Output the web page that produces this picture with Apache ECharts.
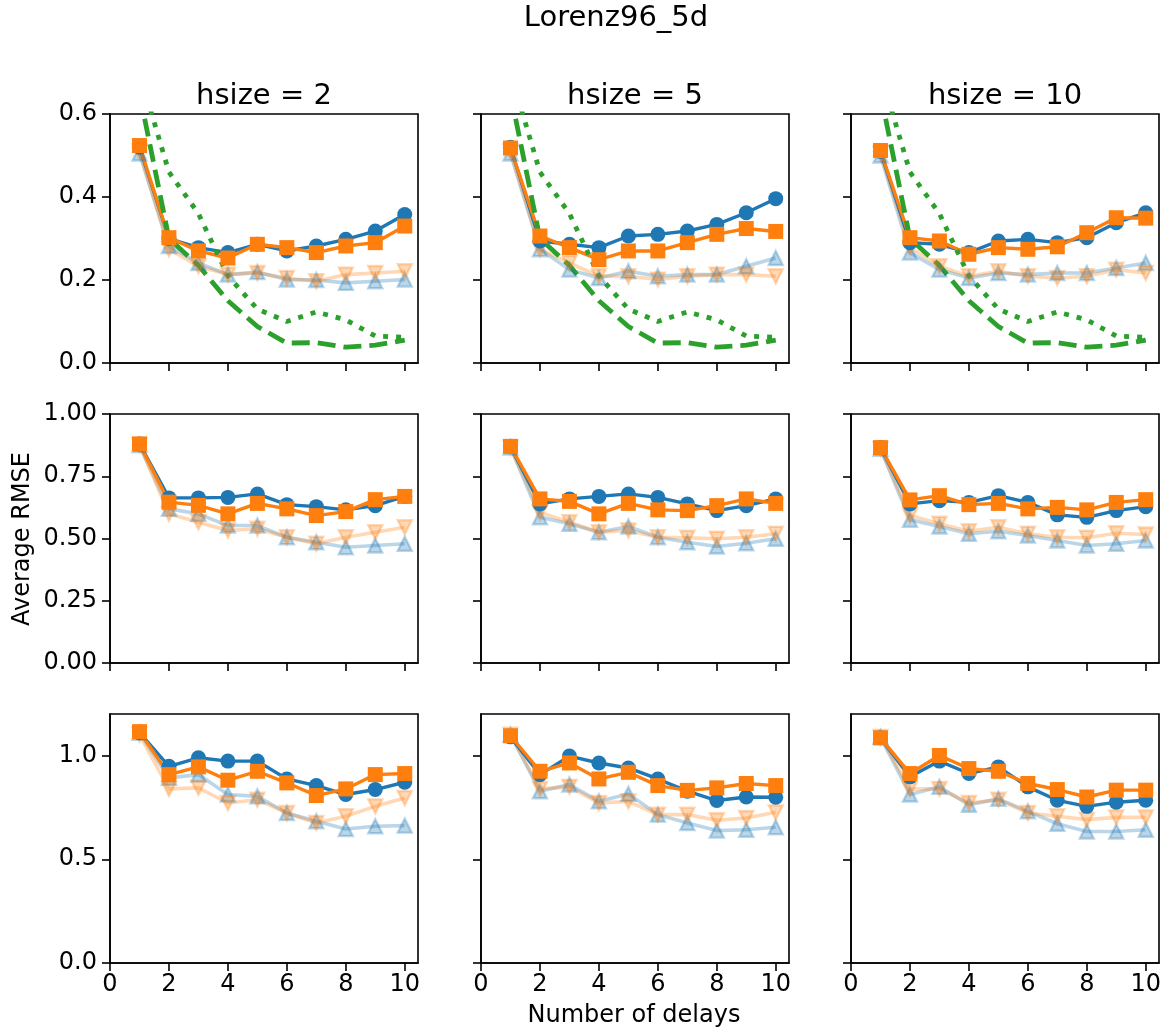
<!DOCTYPE html>
<html>
<head>
<meta charset="utf-8">
<script src="https://cdn.jsdelivr.net/npm/echarts@6/dist/echarts.min.js"></script>
<style>
html,body{margin:0;padding:0;background:#fff;}
#chart{width:1170px;height:1036px;}
</style>
</head>
<body>
<div id="chart"></div>
<script>
// ---------- data ----------
const delays = [1, 2, 3, 4, 5, 6, 7, 8, 9, 10];
const hsizes = [2, 5, 10];
const xTicks = [0, 2, 4, 6, 8, 10];
const yTicksRow1 = [0, 0.2, 0.4, 0.6];
const yTicksRow2 = [0, 0.25, 0.5, 0.75, 1.0];
const yTicksRow3 = [0, 0.5, 1.0];

// Row 1 (per column: hsize 2, 5, 10)
const row1Circle = [
  [0.52, 0.30, 0.278, 0.266, 0.286, 0.270, 0.282, 0.298, 0.318, 0.358],
  [0.52, 0.294, 0.286, 0.278, 0.306, 0.310, 0.318, 0.334, 0.362, 0.396],
  [0.51, 0.29, 0.286, 0.266, 0.294, 0.298, 0.29, 0.302, 0.338, 0.362]
];
const row1Square = [
  [0.524, 0.302, 0.270, 0.253, 0.286, 0.278, 0.266, 0.282, 0.29, 0.33],
  [0.518, 0.306, 0.278, 0.249, 0.270, 0.270, 0.290, 0.310, 0.324, 0.317],
  [0.512, 0.302, 0.294, 0.262, 0.278, 0.274, 0.28, 0.314, 0.35, 0.349]
];
const row1Up = [
  [0.505, 0.282, 0.241, 0.213, 0.219, 0.201, 0.200, 0.193, 0.197, 0.201],
  [0.505, 0.274, 0.225, 0.205, 0.221, 0.209, 0.213, 0.213, 0.233, 0.253],
  [0.50, 0.266, 0.225, 0.205, 0.217, 0.213, 0.217, 0.217, 0.229, 0.241]
];
const row1Down = [
  [0.51, 0.274, 0.233, 0.213, 0.217, 0.205, 0.197, 0.213, 0.217, 0.221],
  [0.51, 0.274, 0.241, 0.209, 0.209, 0.201, 0.209, 0.213, 0.213, 0.209],
  [0.505, 0.278, 0.233, 0.209, 0.221, 0.209, 0.205, 0.209, 0.225, 0.217]
];
const baselineDashed = [0.65, 0.30, 0.235, 0.15, 0.088, 0.048, 0.049, 0.038, 0.043, 0.055];
const baselineDotted = [0.70, 0.46, 0.36, 0.21, 0.13, 0.10, 0.123, 0.104, 0.065, 0.062];

// Row 2
const row2Circle = [
  [0.88, 0.663, 0.663, 0.665, 0.679, 0.636, 0.628, 0.615, 0.632, 0.669],
  [0.87, 0.639, 0.659, 0.669, 0.679, 0.665, 0.639, 0.612, 0.632, 0.659],
  [0.865, 0.639, 0.652, 0.645, 0.672, 0.645, 0.595, 0.585, 0.612, 0.628]
];
const row2Square = [
  [0.88, 0.646, 0.633, 0.599, 0.641, 0.619, 0.592, 0.608, 0.656, 0.669],
  [0.87, 0.659, 0.649, 0.599, 0.641, 0.615, 0.612, 0.632, 0.659, 0.641],
  [0.865, 0.655, 0.672, 0.636, 0.641, 0.619, 0.625, 0.615, 0.645, 0.656]
];
const row2Up = [
  [0.875, 0.619, 0.599, 0.552, 0.552, 0.505, 0.485, 0.465, 0.472, 0.479],
  [0.865, 0.585, 0.559, 0.525, 0.548, 0.505, 0.485, 0.468, 0.481, 0.499],
  [0.86, 0.575, 0.548, 0.519, 0.529, 0.512, 0.492, 0.472, 0.479, 0.492]
];
const row2Down = [
  [0.875, 0.599, 0.565, 0.532, 0.539, 0.505, 0.479, 0.505, 0.525, 0.545],
  [0.865, 0.605, 0.565, 0.525, 0.532, 0.505, 0.503, 0.499, 0.505, 0.519],
  [0.86, 0.592, 0.559, 0.529, 0.545, 0.519, 0.505, 0.503, 0.521, 0.516]
];

// Row 3
const row3Circle = [
  [1.11, 0.948, 0.989, 0.973, 0.973, 0.887, 0.855, 0.812, 0.836, 0.871],
  [1.09, 0.908, 0.997, 0.964, 0.940, 0.887, 0.828, 0.783, 0.800, 0.799],
  [1.085, 0.897, 0.973, 0.913, 0.945, 0.849, 0.784, 0.755, 0.775, 0.784]
];
const row3Square = [
  [1.115, 0.908, 0.945, 0.881, 0.924, 0.868, 0.807, 0.839, 0.908, 0.913],
  [1.095, 0.924, 0.964, 0.887, 0.919, 0.855, 0.832, 0.844, 0.865, 0.855],
  [1.085, 0.913, 1.0, 0.937, 0.924, 0.865, 0.836, 0.800, 0.833, 0.833]
];
const row3Up = [
  [1.11, 0.892, 0.908, 0.812, 0.803, 0.723, 0.683, 0.646, 0.659, 0.662],
  [1.10, 0.828, 0.860, 0.779, 0.815, 0.715, 0.675, 0.638, 0.642, 0.654],
  [1.09, 0.812, 0.849, 0.763, 0.791, 0.731, 0.671, 0.634, 0.634, 0.642]
];
const row3Down = [
  [1.10, 0.839, 0.844, 0.771, 0.787, 0.723, 0.675, 0.707, 0.755, 0.795],
  [1.10, 0.839, 0.849, 0.771, 0.779, 0.715, 0.715, 0.688, 0.699, 0.726],
  [1.09, 0.839, 0.839, 0.771, 0.787, 0.723, 0.707, 0.691, 0.702, 0.702]
];

// ---------- layout / style ----------
const FONT = 'DejaVu Sans';
const BLUE = '#1f77b4', ORANGE = '#ff7f0e', GREEN = '#2ca02c';
const LIGHT_BLUE = 'rgba(31,119,180,0.3)', LIGHT_ORANGE = 'rgba(255,127,14,0.3)';
const gridLefts = [110, 481, 851];
const gridTops = [114, 414, 714];
const gridW = 308, gridH = 249;
const rows = [
  {circle: row1Circle, square: row1Square, up: row1Up, down: row1Down, max: 0.6, ticks: yTicksRow1, dec: 1, baseline: true},
  {circle: row2Circle, square: row2Square, up: row2Up, down: row2Down, max: 1.0, ticks: yTicksRow2, dec: 2, baseline: false},
  {circle: row3Circle, square: row3Square, up: row3Up, down: row3Down, max: 1.2, ticks: yTicksRow3, dec: 1, baseline: false}
];

const pts = arr => delays.map((d, i) => [d, arr[i]]);

const option = {
  animation: false,
  backgroundColor: '#fff',
  grid: [], xAxis: [], yAxis: [], series: [],
  graphic: []
};

rows.forEach((row, r) => {
  hsizes.forEach((h, c) => {
    const idx = r * 3 + c;
    option.grid.push({
      left: gridLefts[c], top: gridTops[r], width: gridW, height: gridH,
      show: true, borderColor: '#000', borderWidth: 1.6, backgroundColor: 'transparent'
    });
    option.xAxis.push({
      gridIndex: idx, type: 'value', min: 0, max: 10.45,
      axisLine: {show: true, onZero: false, lineStyle: {color: '#000', width: 1.6}},
      axisTick: {show: true, length: 8, inside: false, customValues: xTicks, lineStyle: {color: '#000', width: 1.6}},
      axisLabel: {show: r === 2, customValues: xTicks, fontSize: 24, fontFamily: FONT, color: '#000', margin: 10},
      splitLine: {show: false}
    });
    option.yAxis.push({
      gridIndex: idx, type: 'value', min: 0, max: row.max,
      axisLine: {show: true, onZero: false, lineStyle: {color: '#000', width: 1.6}},
      axisTick: {show: true, length: 8, inside: false, customValues: row.ticks, lineStyle: {color: '#000', width: 1.6}},
      axisLabel: {show: c === 0, customValues: row.ticks, fontSize: 24, fontFamily: FONT, color: '#000', margin: 13,
        formatter: v => Number(v).toFixed(row.dec)},
      splitLine: {show: false}
    });
    const common = {xAxisIndex: idx, yAxisIndex: idx, type: 'line', clip: true, silent: true};
    option.series.push(Object.assign({}, common, {
      data: pts(row.up[c]), symbol: 'triangle', symbolSize: 14,
      lineStyle: {color: LIGHT_BLUE, width: 3.6},
      itemStyle: {color: LIGHT_BLUE, borderColor: LIGHT_BLUE, borderWidth: 2.4}
    }));
    option.series.push(Object.assign({}, common, {
      data: pts(row.down[c]), symbol: 'triangle', symbolRotate: 180, symbolSize: 14,
      lineStyle: {color: LIGHT_ORANGE, width: 3.6},
      itemStyle: {color: LIGHT_ORANGE, borderColor: LIGHT_ORANGE, borderWidth: 2.4}
    }));
    option.series.push(Object.assign({}, common, {
      data: pts(row.circle[c]), symbol: 'circle', symbolSize: 15,
      lineStyle: {color: BLUE, width: 3.4}, itemStyle: {color: BLUE}
    }));
    option.series.push(Object.assign({}, common, {
      data: pts(row.square[c]), symbol: 'rect', symbolSize: 15,
      lineStyle: {color: ORANGE, width: 3.4}, itemStyle: {color: ORANGE}
    }));
    if (row.baseline) {
      option.series.push(Object.assign({}, common, {
        data: pts(baselineDashed), symbol: 'none',
        lineStyle: {color: GREEN, width: 4.8, type: [18, 8]}
      }));
      option.series.push(Object.assign({}, common, {
        data: pts(baselineDotted), symbol: 'none',
        lineStyle: {color: GREEN, width: 4.8, type: [5, 8]}
      }));
    }
  });
});

// texts
option.graphic.push({
  type: 'text', x: 616, y: 18,
  style: {text: 'Lorenz96_5d', font: '29px "DejaVu Sans"', fill: '#000', align: 'center', verticalAlign: 'middle'}
});
hsizes.forEach((h, c) => {
  option.graphic.push({
    type: 'text', x: gridLefts[c] + gridW / 2, y: 96,
    style: {text: 'hsize = ' + h, font: '29px "DejaVu Sans"', fill: '#000', align: 'center', verticalAlign: 'middle'}
  });
});
option.graphic.push({
  type: 'text', x: 634, y: 1016,
  style: {text: 'Number of delays', font: '24px "DejaVu Sans"', fill: '#000', align: 'center', verticalAlign: 'middle'}
});
option.graphic.push({
  type: 'text', x: 23, y: 539, rotation: Math.PI / 2,
  style: {text: 'Average RMSE', font: '24px "DejaVu Sans"', fill: '#000', align: 'center', verticalAlign: 'middle'}
});

const chart = echarts.init(document.getElementById('chart'), null, {renderer: 'canvas'});
chart.setOption(option);
</script>
</body>
</html>
